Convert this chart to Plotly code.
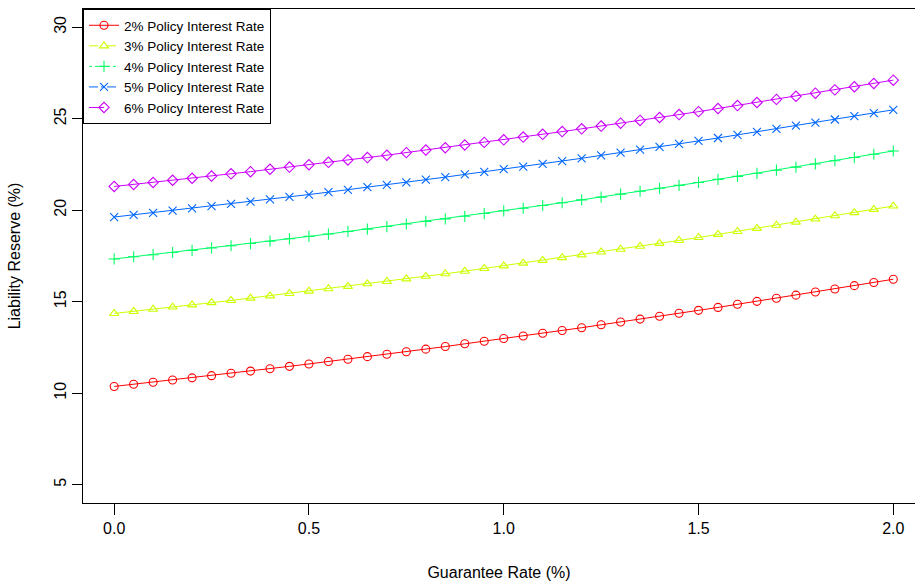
import plotly.graph_objects as go

guarantee_rate = [round(i * 0.05, 2) for i in range(41)]

reserve_2 = [10.37, 10.49, 10.60, 10.72, 10.84, 10.96, 11.09, 11.21, 11.34, 11.47,
             11.60, 11.73, 11.86, 12.00, 12.13, 12.27, 12.41, 12.55, 12.70, 12.84,
             12.99, 13.13, 13.28, 13.43, 13.58, 13.74, 13.89, 14.05, 14.21, 14.37,
             14.53, 14.69, 14.86, 15.02, 15.19, 15.36, 15.53, 15.70, 15.88, 16.05, 16.23]
reserve_3 = [14.36, 14.47, 14.59, 14.71, 14.83, 14.95, 15.07, 15.20, 15.32, 15.45,
             15.58, 15.71, 15.84, 15.98, 16.11, 16.25, 16.39, 16.53, 16.67, 16.82,
             16.96, 17.11, 17.26, 17.41, 17.56, 17.72, 17.87, 18.03, 18.19, 18.35,
             18.51, 18.68, 18.84, 19.01, 19.18, 19.35, 19.52, 19.70, 19.87, 20.05, 20.23]
reserve_4 = [17.34, 17.46, 17.57, 17.69, 17.81, 17.94, 18.06, 18.18, 18.31, 18.44,
             18.57, 18.70, 18.84, 18.97, 19.11, 19.25, 19.39, 19.53, 19.67, 19.82,
             19.97, 20.11, 20.26, 20.41, 20.57, 20.72, 20.88, 21.04, 21.20, 21.36,
             21.52, 21.69, 21.85, 22.02, 22.19, 22.36, 22.53, 22.71, 22.88, 23.06, 23.24]
reserve_5 = [19.63, 19.75, 19.86, 19.98, 20.10, 20.22, 20.35, 20.47, 20.60, 20.73,
             20.86, 20.99, 21.12, 21.26, 21.39, 21.53, 21.67, 21.81, 21.96, 22.10,
             22.25, 22.39, 22.54, 22.69, 22.84, 23.00, 23.15, 23.31, 23.47, 23.63,
             23.79, 23.95, 24.12, 24.28, 24.45, 24.62, 24.79, 24.96, 25.14, 25.31, 25.49]
reserve_6 = [21.30, 21.41, 21.52, 21.64, 21.75, 21.87, 21.99, 22.11, 22.24, 22.36,
             22.49, 22.62, 22.75, 22.88, 23.01, 23.15, 23.29, 23.42, 23.57, 23.71,
             23.85, 24.00, 24.15, 24.30, 24.45, 24.60, 24.76, 24.91, 25.07, 25.23,
             25.39, 25.56, 25.72, 25.89, 26.06, 26.23, 26.40, 26.58, 26.75, 26.93, 27.11]

series_names = ["2% Policy Interest Rate", "3% Policy Interest Rate", "4% Policy Interest Rate",
                "5% Policy Interest Rate", "6% Policy Interest Rate"]
series_values = [reserve_2, reserve_3, reserve_4, reserve_5, reserve_6]
colors = ["#FF0000", "#CCFF00", "#00FF66", "#0066FF", "#CC00FF"]
symbols = ["circle-open", "triangle-up-open", "cross-thin-open", "x-thin-open", "diamond-open"]
legend_dash = ["solid", "dash", "dot", "dashdot", "longdash"]

x_ticks = [0.0, 0.5, 1.0, 1.5, 2.0]
x_tick_labels = ["0.0", "0.5", "1.0", "1.5", "2.0"]
y_ticks = [5, 10, 15, 20, 25, 30]

fig = go.Figure()
for name, vals, c, s in zip(series_names, series_values, colors, symbols):
    fig.add_trace(go.Scatter(
        x=guarantee_rate, y=vals, mode="lines+markers", showlegend=False,
        line=dict(color=c, width=1),
        marker=dict(symbol=s, size=8, color=c, line=dict(color=c, width=1.1)),
    ))
for name, c, s, d in zip(series_names, colors, symbols, legend_dash):
    fig.add_trace(go.Scatter(
        x=[None], y=[None], mode="lines+markers", name=name,
        line=dict(color=c, width=1, dash=d),
        marker=dict(symbol=s, size=8, color=c, line=dict(color=c, width=1.1)),
    ))

font_family = "Liberation Sans, Arial, sans-serif"
fig.update_layout(
    width=915, height=585,
    margin=dict(l=83, r=0, t=9, b=82),
    paper_bgcolor="white", plot_bgcolor="white",
    font=dict(family=font_family, size=16, color="black"),
    showlegend=True,
    legend=dict(x=0, y=1, xanchor="left", yanchor="top",
                bordercolor="black", borderwidth=1, bgcolor="white",
                font=dict(size=13.5), tracegroupgap=0, itemwidth=30),
    xaxis=dict(range=[-0.08, 2.0557], tickvals=x_ticks, ticktext=x_tick_labels,
               showgrid=False, zeroline=False, showline=True, linecolor="black",
               linewidth=1, mirror=True, ticks="outside", ticklen=11,
               tickcolor="black", tickfont=dict(size=16),
               title=dict(text="Guarantee Rate (%)", font=dict(size=16), standoff=30)),
    yaxis=dict(range=[4, 31], tickvals=y_ticks, showgrid=False, zeroline=False,
               showline=True, linecolor="black", linewidth=1, ticks="outside",
               ticklen=10, tickcolor="black", tickangle=-90, tickfont=dict(size=16),
               title=dict(text="Liability Reserve (%)", font=dict(size=16), standoff=26)),
)

fig.write_html("out.html")
